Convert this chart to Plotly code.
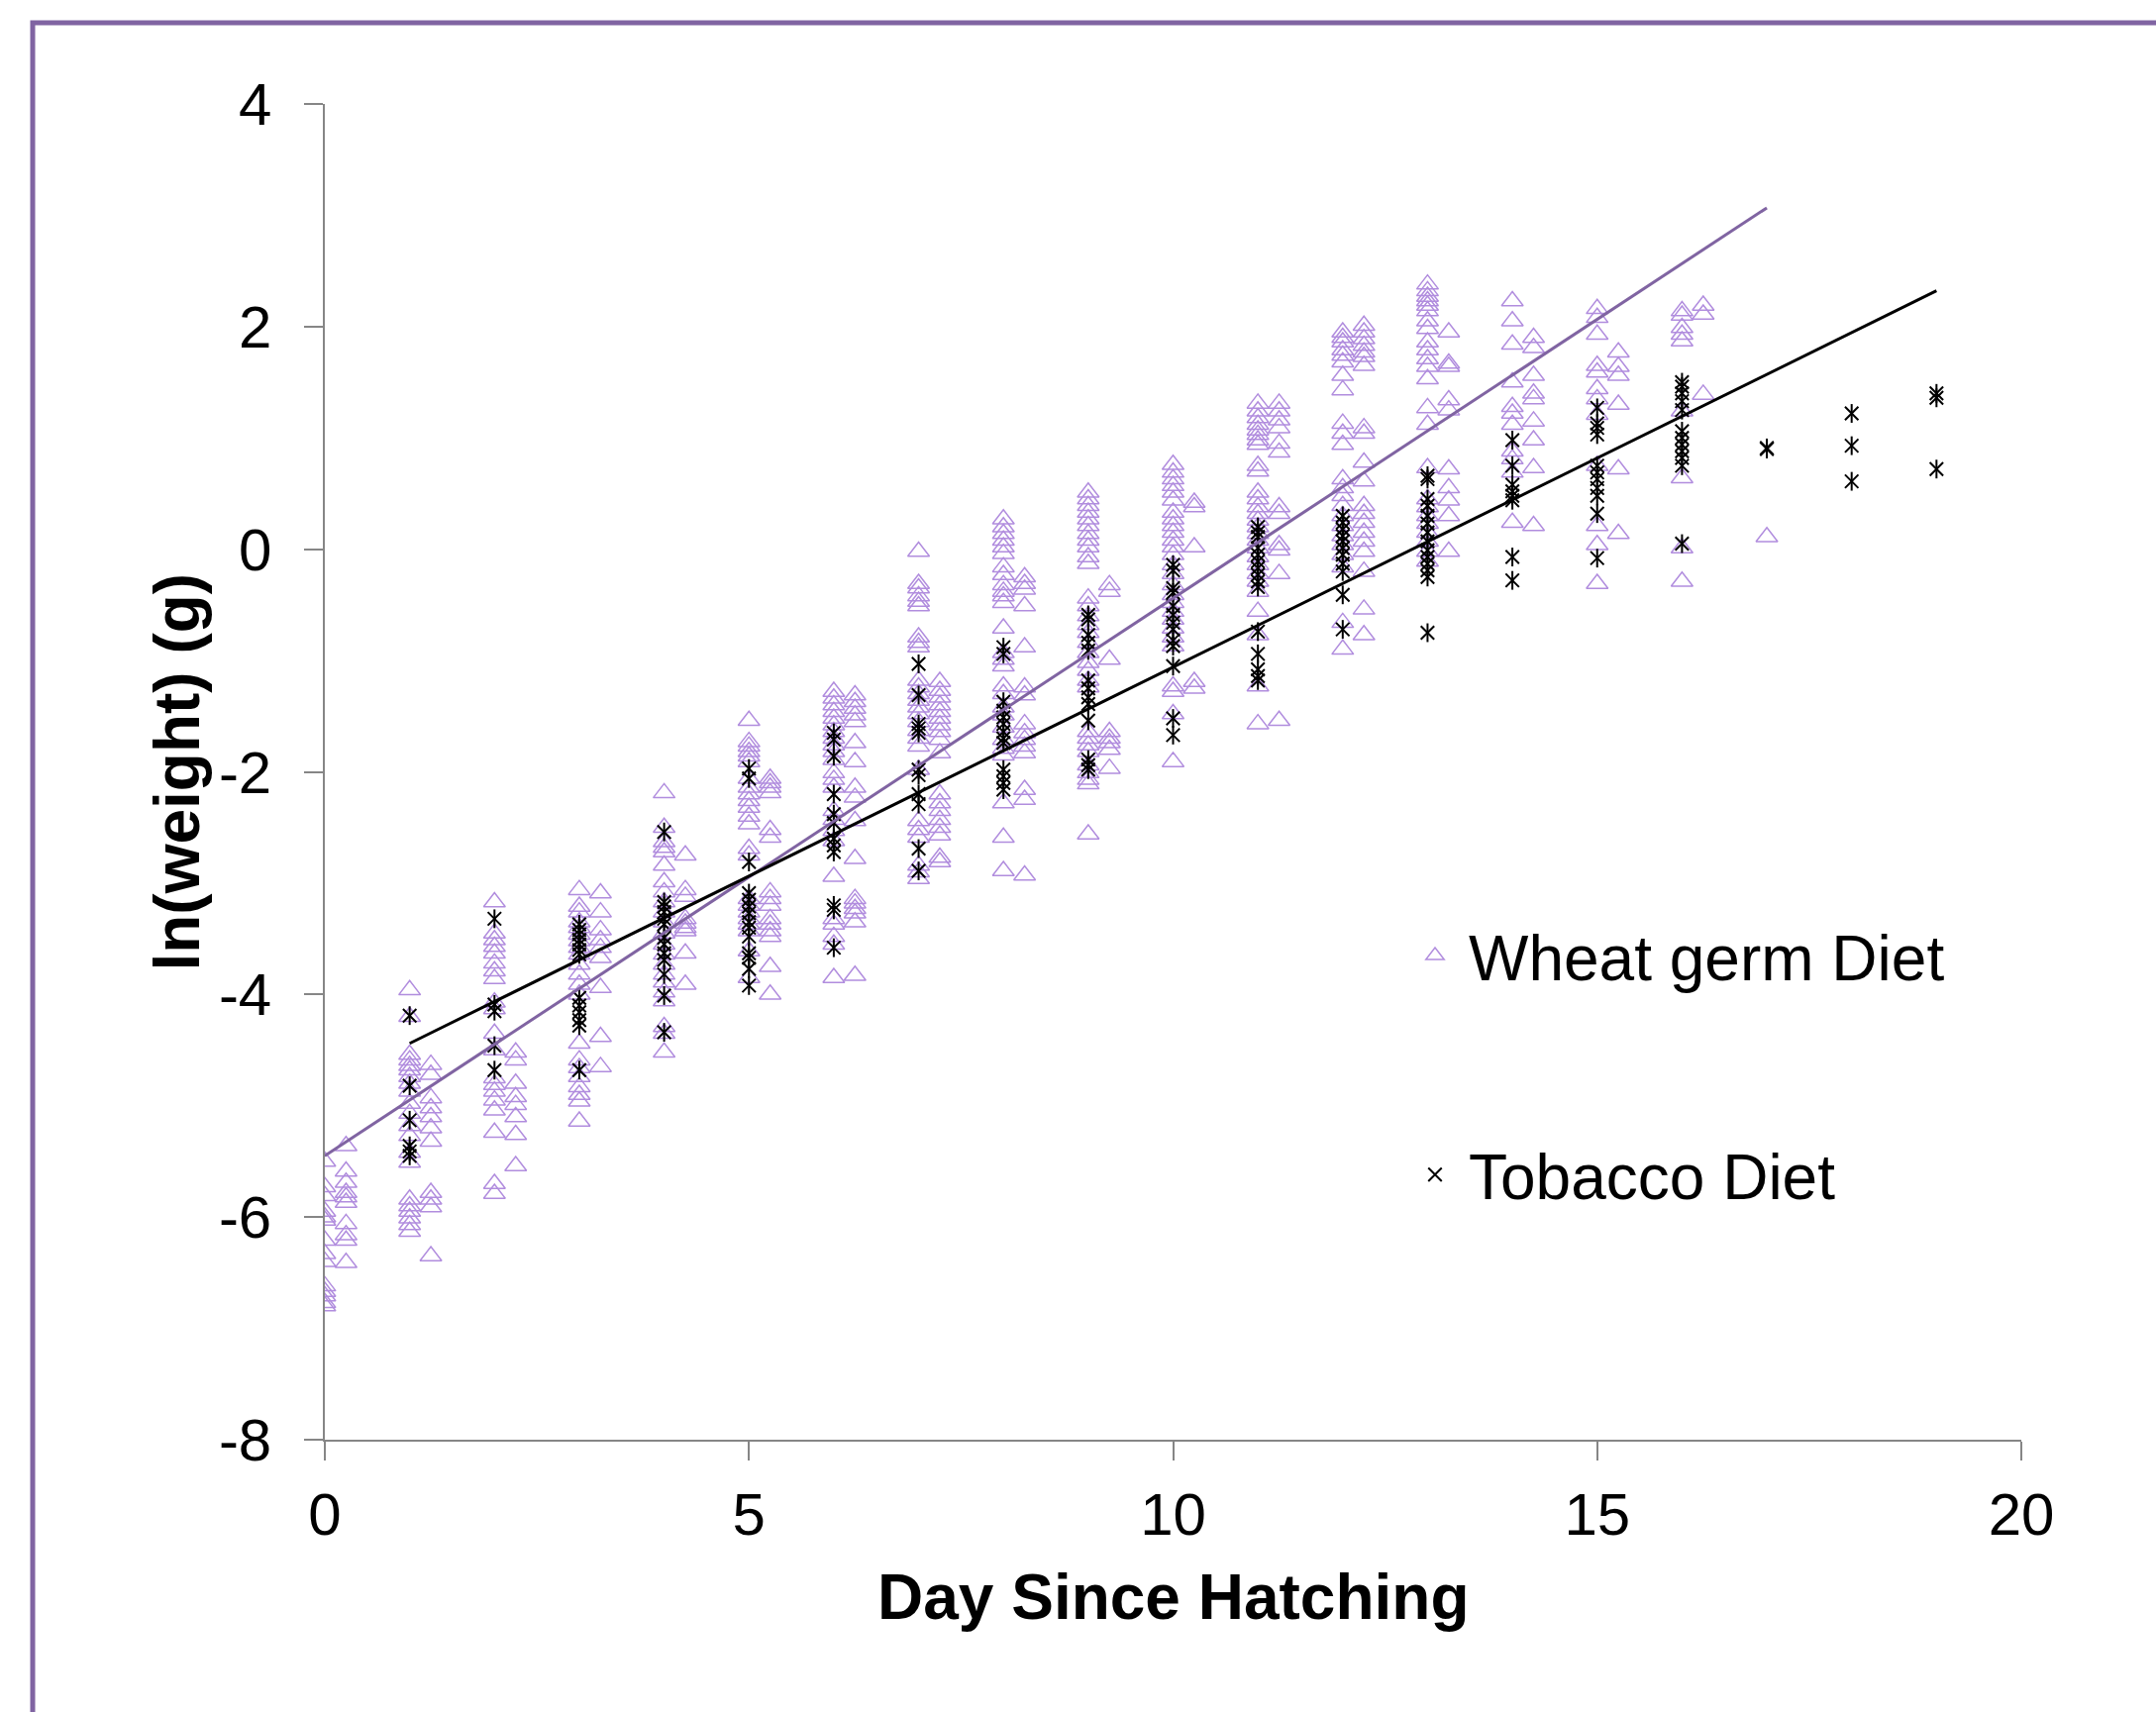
import numpy as np
import plotly.graph_objects as go

# ---------------- data ----------------
# Wheat germ diet: two sub-columns per day (day and day + 0.25)
wheat_0 = [-5.50, -5.73, -5.81, -5.95, -6.00, -6.03, -6.21, -6.33, -6.40, -6.62, -6.67, -6.71, -6.77, -6.80]
wheat_0q = [-5.36, -5.59, -5.69, -5.78, -5.82, -5.87, -6.06, -6.16, -6.21, -6.41]
wheat_1 = [-3.96, -4.20, -4.54, -4.59, -4.64, -4.68, -4.74, -4.80, -4.87, -4.98, -5.07, -5.18, -5.27, -5.42,
           -5.51, -5.84, -5.90, -5.95, -6.01, -6.07, -6.13]
wheat_1q = [-4.63, -4.72, -4.93, -5.02, -5.10, -5.20, -5.32, -5.78, -5.84, -5.91, -6.35]
wheat_2 = [-3.17, -3.45, -3.51, -3.57, -3.63, -3.72, -3.79, -3.86, -4.07, -4.13, -4.35, -4.50, -4.75, -4.81,
           -4.87, -4.95, -5.04, -5.24, -5.70, -5.79]
wheat_2q = [-4.52, -4.59, -4.80, -4.92, -4.99, -5.10, -5.26, -5.54]
wheat_3 = [-3.06, -3.21, -3.26, -3.35, -3.40, -3.46, -3.52, -3.58, -3.64, -3.73, -3.82, -3.91, -4.00, -4.44,
           -4.59, -4.66, -4.74, -4.83, -4.90, -4.96, -5.14]
wheat_3q = [-3.09, -3.26, -3.42, -3.51, -3.58, -3.67, -3.94, -4.38, -4.65]
wheat_4 = [-2.19, -2.50, -2.63, -2.68, -2.72, -2.84, -2.99, -3.08, -3.17, -3.26, -3.35, -3.45, -3.55, -3.64,
           -3.73, -3.82, -3.89, -3.98, -4.06, -4.29, -4.35, -4.52]
wheat_4q = [-2.75, -3.06, -3.12, -3.32, -3.36, -3.40, -3.43, -3.63, -3.91]
wheat_5 = [-1.54, -1.73, -1.77, -1.82, -1.86, -1.91, -2.06, -2.14, -2.20, -2.26, -2.32, -2.40, -2.47, -2.69,
           -2.75, -3.14, -3.20, -3.26, -3.32, -3.37, -3.43, -3.61, -3.85]
wheat_5q = [-2.06, -2.10, -2.14, -2.19, -2.52, -2.59, -3.08, -3.14, -3.20, -3.32, -3.37, -3.43, -3.48, -3.75, -4.00]
wheat_6 = [-1.28, -1.34, -1.40, -1.46, -1.52, -1.58, -1.64, -1.70, -1.76, -1.82, -1.89, -2.01, -2.07, -2.14,
           -2.35, -2.43, -2.53, -2.62, -2.94, -3.32, -3.37, -3.48, -3.55, -3.85]
wheat_6q = [-1.31, -1.37, -1.43, -1.49, -1.55, -1.74, -1.91, -2.14, -2.23, -2.44, -2.78, -3.14, -3.18, -3.23,
            -3.27, -3.35, -3.83]
wheat_7 = [-0.02, -0.31, -0.35, -0.42, -0.47, -0.51, -0.79, -0.84, -0.88, -1.18, -1.24, -1.30, -1.36, -1.42,
           -1.48, -1.55, -1.63, -1.70, -1.77, -1.98, -2.44, -2.52, -2.59, -2.84, -2.90, -2.96]
wheat_7q = [-1.19, -1.27, -1.33, -1.40, -1.46, -1.52, -1.58, -1.64, -1.71, -1.83, -2.20, -2.28, -2.35, -2.43,
            -2.50, -2.57, -2.77, -2.81]
wheat_8 = [0.27, 0.20, 0.14, 0.08, 0.02, -0.04, -0.16, -0.23, -0.32, -0.38, -0.42, -0.48, -0.71, -0.93, -0.99,
           -1.05, -1.23, -1.30, -1.42, -1.49, -1.60, -1.71, -1.79, -1.85, -2.28, -2.59, -2.89]
wheat_8q = [-0.25, -0.31, -0.36, -0.51, -0.88, -1.24, -1.31, -1.57, -1.65, -1.71, -1.77, -1.83, -2.16, -2.25, -2.93]
wheat_9 = [0.51, 0.45, 0.39, 0.33, 0.27, 0.21, 0.14, 0.08, 0.02, -0.07, -0.13, -0.44, -0.51, -0.60, -0.68,
           -0.75, -0.84, -0.93, -1.02, -1.09, -1.18, -1.24, -1.64, -1.70, -1.76, -1.82, -1.94, -2.01, -2.07,
           -2.11, -2.56]
wheat_9q = [-0.32, -0.38, -0.99, -1.64, -1.70, -1.74, -1.80, -1.97]
wheat_10 = [0.76, 0.69, 0.63, 0.57, 0.51, 0.44, 0.33, 0.27, 0.21, 0.15, 0.08, 0.02, -0.05, -0.14, -0.22,
            -0.32, -0.41, -0.48, -0.56, -0.63, -0.71, -0.79, -0.87, -1.23, -1.28, -1.48, -1.91]
wheat_10q = [0.42, 0.38, 0.02, -1.19, -1.25]
wheat_11 = [1.31, 1.24, 1.18, 1.12, 1.07, 1.03, 0.98, 0.94, 0.75, 0.70, 0.51, 0.45, 0.38, 0.32, 0.26, 0.20,
            0.14, 0.08, 0.01, -0.07, -0.14, -0.22, -0.29, -0.38, -0.56, -0.77, -1.23, -1.57]
wheat_11q = [1.31, 1.24, 1.16, 1.09, 0.95, 0.87, 0.38, 0.32, 0.04, -0.01, -0.22, -1.54]
wheat_12 = [1.95, 1.90, 1.86, 1.79, 1.74, 1.68, 1.56, 1.43, 1.13, 1.04, 0.94, 0.63, 0.55, 0.48, 0.39, 0.30,
            0.21, 0.12, 0.04, -0.05, -0.16, -0.66, -0.90]
wheat_12q = [2.01, 1.95, 1.89, 1.83, 1.77, 1.73, 1.65, 1.09, 1.04, 0.78, 0.61, 0.39, 0.32, 0.24, 0.15, 0.07,
             -0.02, -0.20, -0.54, -0.77]
wheat_13 = [2.38, 2.32, 2.27, 2.23, 2.19, 2.14, 2.05, 1.98, 1.86, 1.79, 1.71, 1.64, 1.53, 1.27, 1.12, 0.73,
            0.45, 0.38, 0.30, 0.23, 0.15, 0.07, -0.02, -0.11]
wheat_13q = [1.95, 1.67, 1.64, 1.34, 1.25, 0.72, 0.55, 0.44, 0.30, -0.02]
wheat_14 = [2.23, 2.05, 1.84, 1.50, 1.28, 1.22, 1.12, 0.88, 0.81, 0.69, 0.24]
wheat_14q = [1.90, 1.81, 1.56, 1.40, 1.35, 1.15, 0.98, 0.73, 0.21]
wheat_15 = [2.16, 2.08, 1.93, 1.65, 1.59, 1.44, 1.35, 1.21, 0.75, 0.21, 0.04, -0.31]
wheat_15q = [1.77, 1.64, 1.56, 1.30, 0.72, 0.14]
wheat_16 = [2.14, 2.10, 1.99, 1.93, 1.87, 1.24, 0.64, 0.01, -0.29]
wheat_16q = [2.19, 2.11, 1.39]
wheat_17 = [0.11]

# Tobacco diet: one column per day
tob_1 = [-4.19, -4.82, -5.13, -5.36, -5.41, -5.45]
tob_2 = [-3.32, -4.09, -4.15, -4.46, -4.68]
tob_3 = [-3.37, -3.42, -3.46, -3.51, -3.55, -3.60, -3.64, -4.03, -4.10, -4.16, -4.23, -4.28, -4.68]
tob_4 = [-2.54, -3.17, -3.21, -3.26, -3.32, -3.37, -3.49, -3.55, -3.63, -3.69, -3.82, -4.01, -4.34]
tob_5 = [-1.97, -2.06, -2.81, -3.09, -3.15, -3.21, -3.27, -3.35, -3.40, -3.48, -3.63, -3.67, -3.77, -3.92]
tob_6 = [-1.65, -1.71, -1.86, -2.20, -2.38, -2.46, -2.60, -2.66, -2.72, -3.20, -3.24, -3.58]
tob_7 = [-1.03, -1.31, -1.57, -1.61, -1.65, -1.98, -2.03, -2.20, -2.29, -2.69, -2.89]
tob_8 = [-0.88, -0.94, -1.37, -1.45, -1.51, -1.57, -1.64, -1.70, -1.74, -1.98, -2.04, -2.10, -2.16]
tob_9 = [-0.59, -0.63, -0.77, -0.84, -0.91, -1.18, -1.25, -1.33, -1.39, -1.54, -1.89, -1.94, -1.98]
tob_10 = [-0.14, -0.19, -0.35, -0.39, -0.51, -0.59, -0.66, -0.72, -0.82, -0.87, -1.05, -1.52, -1.67]
tob_11 = [0.20, 0.15, 0.11, 0.01, -0.05, -0.11, -0.17, -0.23, -0.29, -0.34, -0.74, -0.94, -1.08, -1.14, -1.18]
tob_12 = [0.30, 0.24, 0.18, 0.12, 0.07, 0.01, -0.05, -0.13, -0.20, -0.41, -0.72]
tob_13 = [0.66, 0.63, 0.45, 0.39, 0.30, 0.23, 0.15, 0.07, -0.01, -0.07, -0.13, -0.19, -0.25, -0.75]
tob_14 = [0.98, 0.75, 0.58, 0.52, 0.48, 0.44, -0.07, -0.28]
tob_15 = [1.27, 1.13, 1.09, 1.03, 0.75, 0.69, 0.63, 0.55, 0.48, 0.32, -0.08]
tob_16 = [1.50, 1.46, 1.40, 1.33, 1.25, 1.06, 1.00, 0.94, 0.88, 0.82, 0.75, 0.05]
tob_17 = [0.90, 0.91]
tob_18 = [1.22, 0.93, 0.61]
tob_19 = [1.40, 1.36, 0.72]

# Linear trend lines as drawn (slope, intercept, day span)
wheat_trend_slope, wheat_trend_intercept = 0.501, -5.45
wheat_trend_days = [0, 17]
tob_trend_slope, tob_trend_intercept = 0.3756, -4.815
tob_trend_days = [1, 19]

x_ticks = [0, 5, 10, 15, 20]
x_tick_labels = ["0", "5", "10", "15", "20"]
y_ticks = [-8, -6, -4, -2, 0, 2, 4]
y_tick_labels = ["-8", "-6", "-4", "-2", "0", "2", "4"]

# ---------------- assemble ----------------
wheat_cols = [
    (0, wheat_0), (0.25, wheat_0q), (1, wheat_1), (1.25, wheat_1q), (2, wheat_2), (2.25, wheat_2q),
    (3, wheat_3), (3.25, wheat_3q), (4, wheat_4), (4.25, wheat_4q), (5, wheat_5), (5.25, wheat_5q),
    (6, wheat_6), (6.25, wheat_6q), (7, wheat_7), (7.25, wheat_7q), (8, wheat_8), (8.25, wheat_8q),
    (9, wheat_9), (9.25, wheat_9q), (10, wheat_10), (10.25, wheat_10q), (11, wheat_11), (11.25, wheat_11q),
    (12, wheat_12), (12.25, wheat_12q), (13, wheat_13), (13.25, wheat_13q), (14, wheat_14), (14.25, wheat_14q),
    (15, wheat_15), (15.25, wheat_15q), (16, wheat_16), (16.25, wheat_16q), (17, wheat_17),
]
tob_cols = [
    (1, tob_1), (2, tob_2), (3, tob_3), (4, tob_4), (5, tob_5), (6, tob_6), (7, tob_7), (8, tob_8),
    (9, tob_9), (10, tob_10), (11, tob_11), (12, tob_12), (13, tob_13), (14, tob_14), (15, tob_15),
    (16, tob_16), (17, tob_17), (18, tob_18), (19, tob_19),
]
wx = [d for d, vals in wheat_cols for _ in vals]
wy = [v for d, vals in wheat_cols for v in vals]
tx = [d for d, vals in tob_cols for _ in vals]
ty = [v for d, vals in tob_cols for v in vals]

wtx = np.array(wheat_trend_days, dtype=float)
wty = wheat_trend_intercept + wheat_trend_slope * wtx
ttx = np.array(tob_trend_days, dtype=float)
tty = tob_trend_intercept + tob_trend_slope * ttx

FONT = "Liberation Sans, Arial, sans-serif"
PURPLE = "#8064A2"
LAVENDER = "#B18DDE"

fig = go.Figure()
fig.add_trace(go.Scatter(
    x=wx, y=wy, mode="markers", name="Wheat germ Diet", legendgroup="wheat",
    marker=dict(symbol="triangle-up-open", size=19, color=LAVENDER, line=dict(width=1.5, color=LAVENDER)),
))
fig.add_trace(go.Scatter(
    x=tx, y=ty, mode="markers", name="Tobacco Diet", legendgroup="tob",
    marker=dict(symbol="x-thin-open", size=13.5, color="black", line=dict(width=2, color="black")),
))
fig.add_trace(go.Scatter(
    x=tx, y=ty, mode="markers", name="Tobacco Diet", legendgroup="tob", showlegend=False,
    marker=dict(symbol="line-ns-open", size=13.5, color="black", line=dict(width=2, color="black")),
))
fig.add_trace(go.Scatter(
    x=wtx, y=wty, mode="lines", showlegend=False, line=dict(color=PURPLE, width=3), hoverinfo="skip",
))
fig.add_trace(go.Scatter(
    x=ttx, y=tty, mode="lines", showlegend=False, line=dict(color="black", width=3), hoverinfo="skip",
))

W, H = 2177, 1729
L, R, T, B = 328, 136, 105, 275
pw, ph = W - L - R, H - T - B

def px_x(px):
    return (px - L) / pw

def px_y(py):
    return (H - B - py) / ph

axis_common = dict(
    showline=True, linecolor="#868686", linewidth=1.5, ticks="outside", ticklen=19, tickwidth=1.5,
    tickcolor="#868686", showgrid=False, zeroline=False, tickfont=dict(family=FONT, size=60, color="black"),
)

fig.update_layout(
    width=W, height=H,
    margin=dict(l=L, r=R, t=T, b=B, autoexpand=False),
    paper_bgcolor="white", plot_bgcolor="white",
    font=dict(family=FONT, color="black"),
    xaxis=dict(range=[0, 20], tickvals=x_ticks, ticktext=x_tick_labels, ticklabelstandoff=3, **axis_common),
    yaxis=dict(range=[-8, 4], tickvals=y_ticks, ticktext=y_tick_labels, ticklabelstandoff=21, **axis_common),
    showlegend=True,
    legend=dict(
        x=px_x(1415), y=px_y(917), xanchor="left", yanchor="top",
        font=dict(family=FONT, size=64, color="black"), bgcolor="rgba(0,0,0,0)",
        traceorder="grouped", tracegroupgap=135, itemwidth=58,
    ),
    annotations=[
        dict(text="<b>Day Since Hatching</b>", x=0.5, y=px_y(1613), xref="paper", yref="paper",
             xanchor="center", yanchor="middle", showarrow=False, font=dict(family=FONT, size=64)),
        dict(text="<b>ln(weight) (g)</b>", x=px_x(178), y=0.5, xref="paper", yref="paper",
             xanchor="center", yanchor="middle", textangle=-90, showarrow=False,
             font=dict(family=FONT, size=64)),
    ],
    shapes=[
        dict(type="rect", xref="paper", yref="paper", x0=px_x(33), x1=px_x(W + 20), y0=px_y(H + 20),
             y1=px_y(23), line=dict(color=PURPLE, width=5), fillcolor="rgba(0,0,0,0)", layer="above"),
    ],
)

fig.write_html("out.html", config={"displayModeBar": False},
               post_script="document.body.style.margin='0';")
